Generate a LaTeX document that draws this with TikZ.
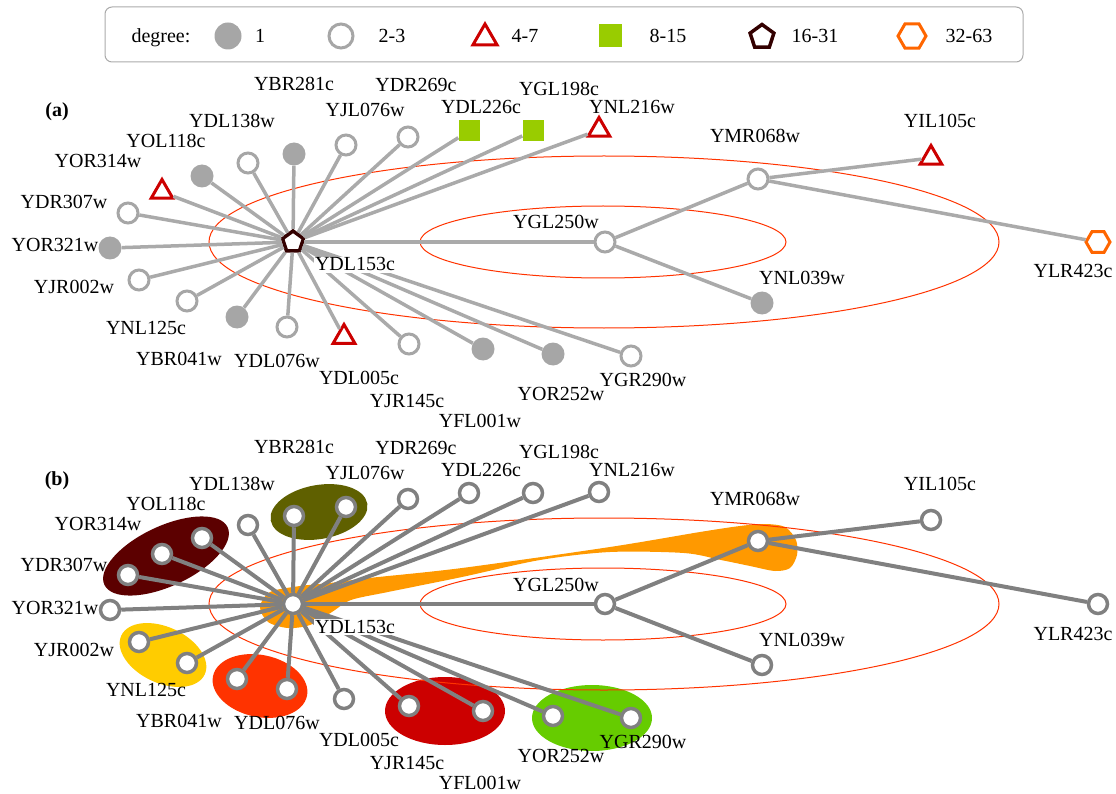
\documentclass[tikz,border=0pt]{standalone}
\usepackage{fontspec}
\setmainfont{Liberation Serif}
\usetikzlibrary{shapes.geometric}

\definecolor{nodegray}{HTML}{A6A6A6}
\definecolor{linegray}{HTML}{AAAAAA}
\definecolor{netgray}{HTML}{808080}
\definecolor{degred}{HTML}{CC0000}
\definecolor{deggreen}{HTML}{99CC00}
\definecolor{degbrown}{HTML}{330000}
\definecolor{degorange}{HTML}{FF6600}
\definecolor{ringred}{HTML}{FF3300}
\definecolor{blobmaroon}{HTML}{5C0000}
\definecolor{blobolive}{HTML}{5F6000}
\definecolor{blobyellow}{HTML}{FFCC00}
\definecolor{blobscarlet}{HTML}{FF3300}
\definecolor{blobred}{HTML}{CC0000}
\definecolor{blobgreen}{HTML}{66CC00}
\definecolor{bloborange}{HTML}{FF9900}

% name/x/y/degree style/label dx/label dy/label style
\newcommand{\netnodes}{%
  YDL153c/293/242/deg16/62/23/hublbl,
  YOR321w/110/248/deg1/-55/-2/lbl,
  YDR307w/128/213/deg2/-64/-10/lbl,
  YOR314w/162/192/deg4/-64/-30/lbl,
  YOL118c/202/176/deg1/-36/-34/lbl,
  YDL138w/248/163/deg2/-16/-41/lbl,
  YBR281c/294/154/deg1/0/-69/lbl,
  YJL076w/346/145/deg2/19/-34/lbl,
  YDR269c/408/137/deg2/8/-51/lbl,
  YDL226c/469/131/deg8/12/-23/lbl,
  YGL198c/533/131/deg8/26/-41/lbl,
  YNL216w/599/130/deg4/33/-22/lbl,
  YJR002w/139/280/deg2/-65/8/lbl,
  YNL125c/187/301/deg2/-41/27/lbl,
  YBR041w/237/317/deg1/-58/42/lbl,
  YDL076w/287/327/deg2/-10/34/lbl,
  YDL005c/344/337/deg4/15/41/lbl,
  YJR145c/409/344/deg2/-2/57/lbl,
  YFL001w/483/349/deg1/-3/72/lbl,
  YOR252w/553/354/deg1/8/40/lbl,
  YGR290w/631/356/deg2/12/24/lbl,
  YGL250w/605/242/deg2/-49/-19/lbl,
  YNL039w/762/303/deg1/40/-25/lbl,
  YMR068w/758/179/deg2/-3/-42/lbl,
  YIL105c/931/158/deg4/9/-36/lbl,
  YLR423c/1098/242/deg32/-25/30/lbl}

\newcommand{\drawnet}[1]{%
  \foreach \n/\x/\y/\d/\lx/\ly/\ls in \netnodes
    \node[style=\d] (#1\n) at (\x,\y) {};
  % star around the hub
  \foreach \n in {YOR321w,YDR307w,YOR314w,YOL118c,YDL138w,YBR281c,YJL076w,
                  YDR269c,YDL226c,YGL198c,YNL216w,YJR002w,YNL125c,YBR041w,
                  YDL076w,YDL005c,YJR145c,YFL001w,YOR252w,YGR290w,YGL250w}
    \draw[edge] (#1YDL153c) -- (#1\n);
  \draw[edge] (#1YGL250w) -- (#1YMR068w);
  \draw[edge] (#1YGL250w) -- (#1YNL039w);
  \draw[edge] (#1YMR068w) -- (#1YIL105c);
  \draw[edge] (#1YMR068w) -- (#1YLR423c);
  \foreach \n/\x/\y/\d/\lx/\ly/\ls in \netnodes
    \node[style=\ls] (#1l\n) at ([shift={(\lx,\ly)}]#1\n) {\n};
}

\begin{document}
\begin{tikzpicture}[x=1pt,y=-1pt,
    txt/.style={font=\fontsize{20}{24}\selectfont,text height=13pt,text depth=1pt,inner sep=0pt},
    lbl/.style={txt},
    hublbl/.style={txt,fill=white,inner sep=1pt},
    deg1/.style={circle,fill=nodegray,minimum size=23pt,inner sep=0pt},
    deg2/.style={circle,draw=nodegray,line width=3pt,fill=white,minimum size=20pt,inner sep=0pt},
    deg4/.style={regular polygon,regular polygon sides=3,draw=degred,line width=3pt,fill=white,minimum size=25pt,inner sep=0pt},
    deg8/.style={rectangle,fill=deggreen,minimum size=21pt,inner sep=0pt},
    deg16/.style={regular polygon,regular polygon sides=5,draw=degbrown,line width=3.5pt,fill=white,minimum size=22pt,inner sep=0pt},
    deg32/.style={regular polygon,regular polygon sides=6,draw=degorange,line width=3pt,fill=white,minimum size=24pt,inner sep=0pt},
    nodeb/.style={circle,draw=netgray,line width=3.5pt,fill=white,minimum size=19pt,inner sep=0pt},
    edge/.style={draw=linegray,line width=3.5pt},
    edgeb/.style={draw=netgray,line width=4pt},
    ring/.style={draw=ringred,line width=1pt}]
\useasboundingbox (0,0) rectangle (1116,794);

% legend
\draw[draw=linegray,line width=1pt,rounded corners=7pt] (105,7) rectangle (1023,62);
\node[txt] (degree) at (161,37) {degree:};
\node[deg1,minimum size=27pt] (leg1) at (228,36) {};
\node[txt] at (260,37) {1};
\node[deg2,minimum size=24pt] (leg2) at (341,36) {};
\node[txt] at (392,37) {2-3};
\node[deg4,minimum size=28pt] (leg4) at (485,38) {};
\node[txt] at (525,37) {4-7};
\node[deg8,minimum size=23pt] (leg8) at (610,36) {};
\node[txt] at (668,37) {8-15};
\node[deg16,minimum size=25pt] (leg16) at (762,37) {};
\node[txt] at (815,37) {16-31};
\node[deg32,minimum size=28pt] (leg32) at (912,36) {};
\node[txt] at (969,37) {32-63};

% (a)
\node[txt,font=\fontsize{20}{24}\selectfont\bfseries] (panela) at (57,111) {(a)};
\draw[ring] (603,242) ellipse (183pt and 36pt);
\draw[ring] (604,242) ellipse (395pt and 86pt);
\drawnet{a}

% (b)
\begin{scope}[shift={(0,362)},
    deg1/.style={nodeb},deg2/.style={nodeb},deg4/.style={nodeb},
    deg8/.style={nodeb},deg16/.style={nodeb},deg32/.style={nodeb},
    edge/.style={edgeb}]
\node[txt,font=\fontsize{20}{24}\selectfont\bfseries] (panelb) at (57,117) {(b)};
\fill[blobmaroon,rotate around={25:(166,194)}] (166,194) ellipse (68pt and 30pt);
\fill[blobolive,rotate around={10:(319,150)}] (319,150) ellipse (49pt and 27pt);
\fill[blobyellow,rotate around={-25:(163,293)}] (163,293) ellipse (46pt and 28pt);
\fill[blobscarlet,rotate around={-12:(260,324)}] (260,324) ellipse (48pt and 31pt);
\fill[blobred] (445,349) ellipse (60pt and 34pt);
\fill[blobgreen] (592,356) ellipse (60pt and 33pt);
\fill[bloborange] plot[smooth cycle,tension=0.5] coordinates {
  (270,230) (300,224) (330,221) (369,216) (462,206) (610,185) (700,170)
  (740,164) (765,162) (785,165) (796,178) (797,193) (790,206) (775,209)
  (750,204) (721,198) (684,191) (610,190) (540,198) (462,215) (388,230)
  (351,238) (332,250) (310,263) (288,266) (268,260) (260,245)};
\draw[ring] (603,242) ellipse (183pt and 36pt);
\draw[ring] (604,242) ellipse (395pt and 86pt);
\drawnet{b}
\end{scope}
\end{tikzpicture}
\end{document}
